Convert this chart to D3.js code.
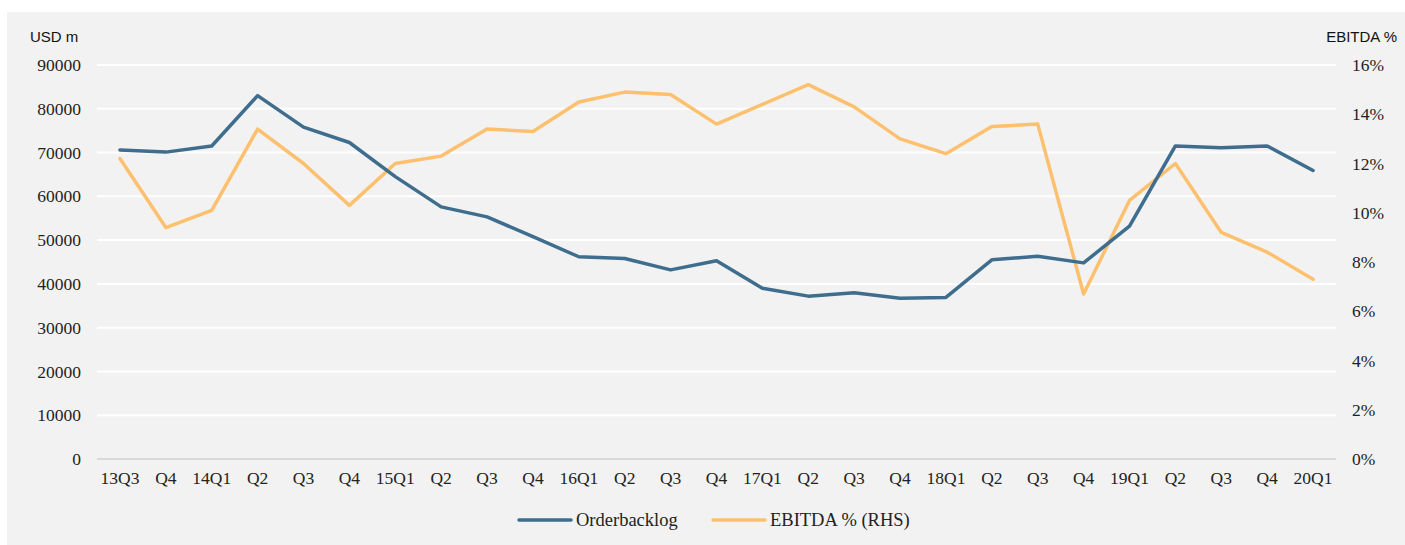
<!DOCTYPE html>
<html>
<head>
<meta charset="utf-8">
<script src="https://cdnjs.cloudflare.com/ajax/libs/d3/7.8.5/d3.min.js"></script>
<style>
  body { margin: 0; background: #ffffff; }
  .tick text { font-family: "Liberation Serif", serif; font-size: 17.5px; fill: #222; }
  .unit { font-family: "Liberation Sans", Arial, sans-serif; font-size: 15px; fill: #111; }
  .legend text { font-family: "Liberation Serif", serif; font-size: 18.5px; fill: #222; }
</style>
</head>
<body>
<div id="chart"></div>
<script>
// quarters along the x axis
var quarters = ["13Q3", "Q4", "14Q1", "Q2", "Q3", "Q4", "15Q1", "Q2", "Q3", "Q4",
                "16Q1", "Q2", "Q3", "Q4", "17Q1", "Q2", "Q3", "Q4", "18Q1", "Q2",
                "Q3", "Q4", "19Q1", "Q2", "Q3", "Q4", "20Q1"];

// order backlog, USD m
var backlog = [70600, 70100, 71500, 83000, 75800, 72300, 64500, 57600, 55300, 50800,
               46200, 45800, 43200, 45300, 39000, 37200, 38000, 36700, 36900, 45500,
               46300, 44800, 53200, 71500, 71100, 71500, 65900];

// EBITDA margin, % (right hand side)
var ebitda = [12.2, 9.4, 10.1, 13.4, 12.0, 10.3, 12.0, 12.3, 13.4, 13.3,
              14.5, 14.9, 14.8, 13.6, 14.4, 15.2, 14.3, 13.0, 12.4, 13.5,
              13.6, 6.7, 10.5, 12.0, 9.2, 8.4, 7.3];

var leftTicks = [0, 10000, 20000, 30000, 40000, 50000, 60000, 70000, 80000, 90000];
var rightTicks = [0, 2, 4, 6, 8, 10, 12, 14, 16];

var W = 1405, H = 545;
var margin = {top: 65, right: 69, bottom: 86, left: 97};
var width = W - margin.left - margin.right;
var height = H - margin.top - margin.bottom;

var svg = d3.select("#chart").append("svg")
    .attr("width", W)
    .attr("height", H);

// grey panel
svg.append("rect")
  .attr("x", 7).attr("y", 12)
  .attr("width", W - 7).attr("height", H - 12)
  .attr("fill", "#f2f2f2");

var g = svg.append("g")
  .attr("transform", "translate(" + margin.left + "," + margin.top + ")");

var x = d3.scaleBand()
  .domain(d3.range(quarters.length))
  .range([0, width]);

var y = d3.scaleLinear().domain([0, 90000]).range([height, 0]);
var y2 = d3.scaleLinear().domain([0, 16]).range([height, 0]);

// gridlines
g.selectAll(".grid")
  .data(leftTicks)
  .enter().append("line")
  .attr("class", "grid")
  .attr("x1", 0).attr("x2", width)
  .attr("y1", function(d) { return y(d); })
  .attr("y2", function(d) { return y(d); })
  .attr("stroke", function(d) { return d === 0 ? "#d9d9d9" : "#ffffff"; })
  .attr("stroke-width", 2);

// left axis
var yAxis = d3.axisLeft(y).tickValues(leftTicks).tickSize(0).tickPadding(16)
  .tickFormat(d3.format("d"));
g.append("g").attr("class", "y axis").call(yAxis)
  .call(function(s) { s.select(".domain").remove(); });

// right axis
var y2Axis = d3.axisRight(y2).tickValues(rightTicks).tickSize(0).tickPadding(16)
  .tickFormat(function(d) { return d + "%"; });
g.append("g").attr("class", "y2 axis")
  .attr("transform", "translate(" + width + ",0)")
  .call(y2Axis)
  .call(function(s) { s.select(".domain").remove(); });

// bottom axis
var xAxis = d3.axisBottom(x).tickSize(0).tickPadding(13)
  .tickFormat(function(i) { return quarters[i]; });
g.append("g").attr("class", "x axis")
  .attr("transform", "translate(0," + height + ")")
  .call(xAxis)
  .call(function(s) { s.select(".domain").remove(); });

// unit labels
svg.append("text").attr("class", "unit")
  .attr("x", 30).attr("y", 42).text("USD m");
svg.append("text").attr("class", "unit")
  .attr("x", 1397).attr("y", 42).attr("text-anchor", "end").text("EBITDA %");

var cx = function(d, i) { return x(i) + x.bandwidth() / 2; };

var line1 = d3.line().x(cx).y(function(d) { return y(d); });
var line2 = d3.line().x(cx).y(function(d) { return y2(d); });

g.append("path")
  .datum(ebitda)
  .attr("fill", "none")
  .attr("stroke", "#fdc06f")
  .attr("stroke-width", 3.5)
  .attr("stroke-linejoin", "round")
  .attr("stroke-linecap", "round")
  .attr("d", line2);

g.append("path")
  .datum(backlog)
  .attr("fill", "none")
  .attr("stroke", "#3e6d8e")
  .attr("stroke-width", 3.5)
  .attr("stroke-linejoin", "round")
  .attr("stroke-linecap", "round")
  .attr("d", line1);

// legend
var legend = svg.append("g").attr("class", "legend");
var items = [
  {name: "Orderbacklog", color: "#3e6d8e", x: 519},
  {name: "EBITDA % (RHS)", color: "#fdc06f", x: 713}
];
items.forEach(function(it) {
  legend.append("line")
    .attr("x1", it.x).attr("x2", it.x + 52)
    .attr("y1", 520).attr("y2", 520)
    .attr("stroke", it.color).attr("stroke-width", 3.5)
    .attr("stroke-linecap", "round");
  legend.append("text")
    .attr("x", it.x + 57).attr("y", 526)
    .text(it.name);
});
</script>
</body>
</html>
